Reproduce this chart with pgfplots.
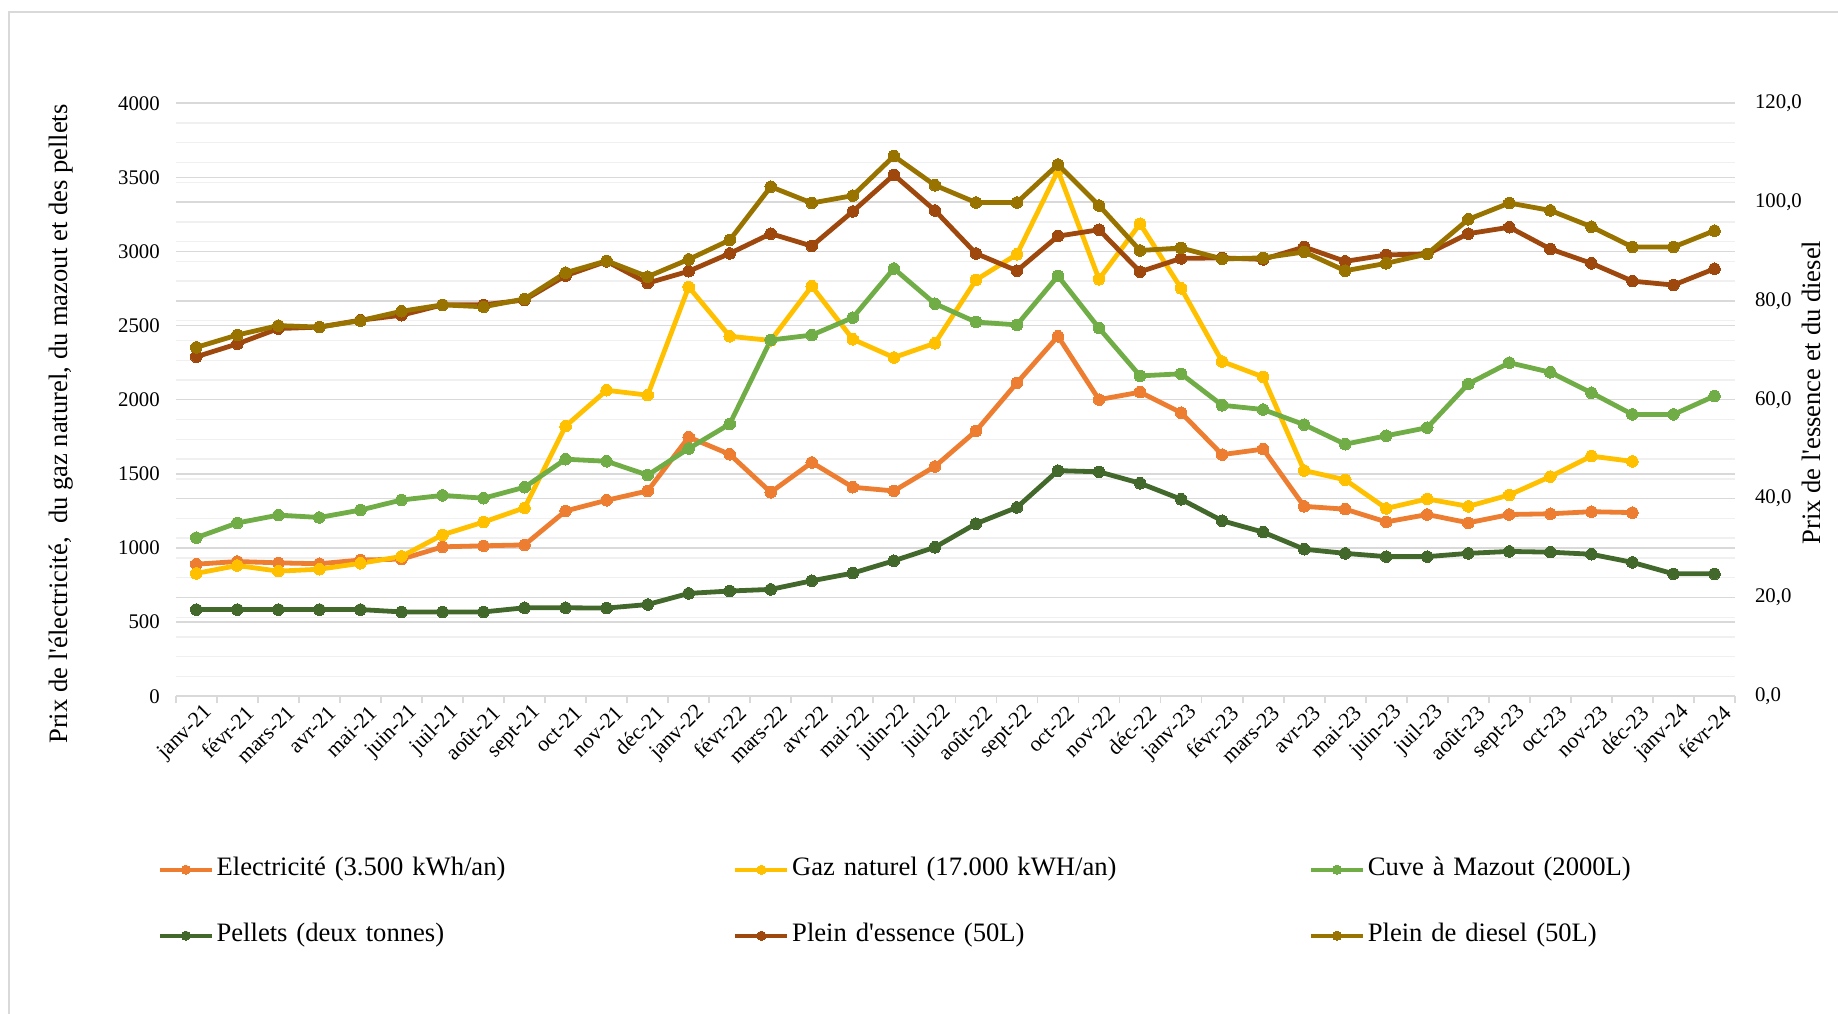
\documentclass[border=0pt]{standalone}
\usepackage{fontspec}
\setmainfont{Liberation Serif}
\usepackage{pgfplots}
\pgfplotsset{compat=1.18}

\definecolor{cElec}{HTML}{ED7D31}
\definecolor{cGaz}{HTML}{FFC000}
\definecolor{cMaz}{HTML}{70AD47}
\definecolor{cPel}{HTML}{43682B}
\definecolor{cEss}{HTML}{9E480E}
\definecolor{cDie}{HTML}{997300}
\definecolor{gridmaj}{HTML}{D9D9D9}
\definecolor{gridmin}{HTML}{F0F0F0}

\pgfplotsset{
  base/.style={
    at={(87.9pt,158.35pt)}, anchor=south west,
    scale only axis, width=779.6pt, height=296.55pt,
    xmin=-0.5, xmax=37.5,
    /pgf/number format/assume math mode=true,
    /pgf/number format/1000 sep={},
    tick label style={font=\fontsize{10.4}{12}\selectfont},
    label style={font=\fontsize{13.3}{15}\selectfont},
  },
  serie/.style={color=#1, line width=2.4pt, line join=round, mark=*, mark size=2.9pt,
    mark options={solid, fill=#1, draw=#1, line width=0pt}},
}

% Monthly prices: left axis (EUR per year / per delivery)
\pgfplotstableread{
m elec gaz mazout pellets
0  891  829  1070 585
1  909  882  1169 585
2  900  844  1222 585
3  894  857  1206 585
4  919  897  1256 585
5  925  943  1324 569
6  1008 1089 1355 569
7  1015 1175 1336 569
8  1021 1271 1410 597
9  1250 1822 1599 597
10 1322 2064 1585 595
11 1385 2031 1492 619
12 1748 2761 1671 694
13 1632 2428 1836 710
14 1376 2400 2403 721
15 1577 2766 2436 779
16 1410 2408 2554 831
17 1385 2285 2885 914
18 1550 2381 2648 1005
19 1789 2808 2524 1164
20 2114 2981 2505 1274
21 2428 3545 2835 1522
22 2001 2813 2483 1514
23 2051 3187 2161 1437
24 1913 2752 2175 1329
25 1630 2258 1963 1184
26 1667 2154 1934 1107
27 1281 1523 1832 992
28 1262 1460 1700 964
29 1176 1267 1757 942
30 1226 1331 1812 942
31 1170 1281 2107 964
32 1226 1358 2250 977
33 1231 1482 2185 972
34 1245 1620 2047 958
35 1239 1584 1901 903
36 nan  nan  1901 826
37 nan  nan  2025 826
}\gauche

% Full tank prices: right axis (EUR for 50 L)
\pgfplotstableread{
m essence diesel
0  68.7 70.6
1  71.3 73.1
2  74.4 75.0
3  74.7 74.7
4  76.1 76.0
5  77.1 77.9
6  79.2 79.2
7  79.2 78.8
8  80.2 80.4
9  85.1 85.7
10 88.0 88.1
11 83.6 84.9
12 86.0 88.4
13 89.6 92.3
14 93.6 103.1
15 91.1 99.8
16 98.1 101.3
17 105.5 109.3
18 98.3 103.4
19 89.6 99.9
20 86.1 99.9
21 93.1 107.6
22 94.4 99.3
23 85.9 90.2
24 88.6 90.7
25 88.7 88.5
26 88.4 88.7
27 90.9 89.9
28 88.0 86.1
29 89.3 87.6
30 89.5 89.5
31 93.6 96.5
32 94.9 99.8
33 90.5 98.3
34 87.6 95.0
35 84.0 90.9
36 83.2 90.9
37 86.5 94.2
}\droite

\begin{document}
\begin{tikzpicture}
\useasboundingbox (0,0) rectangle (919pt,506.5pt);
\draw[gridmaj, line width=0.8pt] (4.5pt,-20pt) -- (4.5pt,500.5pt) -- (940pt,500.5pt);

% secondary scale: gridlines and labels
\begin{axis}[base, ymin=0, ymax=120,
  axis x line=none, axis y line*=right, y axis line style={draw=none},
  ytick={0,20,...,120}, minor y tick num=4,
  ymajorgrids, yminorgrids,
  major grid style={gridmaj, line width=0.7pt},
  minor grid style={gridmin, line width=0.7pt},
  major tick length=0pt, minor tick length=0pt,
  yticklabel style={xshift=6.5pt, /pgf/number format/.cd, fixed, fixed zerofill, precision=1, use comma},
  ylabel={Prix de l\textquotesingle essence et du diesel},
  ylabel style={at={(axis description cs:1.0487,0.512)}, anchor=center},
]
\end{axis}

% primary scale
\begin{axis}[base, ymin=0, ymax=4000,
  axis x line*=bottom, axis y line*=left, y axis line style={draw=none},
  x axis line style={gridmaj, line width=0.9pt, -},
  xtick={0,...,37},
  xticklabels={janv-21,févr-21,mars-21,avr-21,mai-21,juin-21,juil-21,août-21,sept-21,oct-21,nov-21,déc-21,
    janv-22,févr-22,mars-22,avr-22,mai-22,juin-22,juil-22,août-22,sept-22,oct-22,nov-22,déc-22,
    janv-23,févr-23,mars-23,avr-23,mai-23,juin-23,juil-23,août-23,sept-23,oct-23,nov-23,déc-23,
    janv-24,févr-24},
  minor xtick={-0.5,0.5,...,37.5},
  major tick length=0pt, minor tick length=3.5pt, tick align=outside,
  minor tick style={gridmaj, line width=0.9pt},
  xticklabel style={rotate=45, anchor=east, inner sep=1pt, yshift=-9pt, xshift=1pt,
    font=\fontsize{10.9}{12}\selectfont},
  ytick={0,500,...,4000}, ymajorgrids,
  major grid style={gridmaj, line width=0.7pt},
  yticklabel style={xshift=-4.5pt},
  ylabel={Prix de l\textquotesingle électricité,\ \ du gaz naturel, du mazout et des pellets},
  ylabel style={at={(axis description cs:-0.0736,0.459)}, anchor=center},
  legend columns=3,
  legend cell align=left,
  legend image code/.code={\draw[line width=1.8pt, mark size=2.3pt, mark repeat=2, mark phase=2]
    plot coordinates {(0pt,0pt) (13pt,0pt) (26pt,0pt)};},
  legend style={draw=none, fill=none, at={(axis description cs:-0.0114,-0.348)}, anchor=west,
    inner sep=0pt, outer sep=0pt, column sep=0pt, row sep=21pt,
    font=\fontsize{13.3}{15}\selectfont,
    nodes={text width=257pt, align=left, inner xsep=1.5pt, inner ysep=0pt, text height=9pt, text depth=3pt}},
]
\addplot[serie=cElec] table[x=m, y=elec] {\gauche};
\addlegendentry{Electricité (3.500 kWh/an)}
\addplot[serie=cGaz] table[x=m, y=gaz] {\gauche};
\addlegendentry{Gaz naturel (17.000 kWH/an)}
\addplot[serie=cMaz] table[x=m, y=mazout] {\gauche};
\addlegendentry{Cuve à Mazout (2000L)}
\addplot[serie=cPel] table[x=m, y=pellets] {\gauche};
\addlegendentry{Pellets (deux tonnes)}
\addlegendimage{serie=cEss}
\addlegendentry{Plein d\textquotesingle essence (50L)}
\addlegendimage{serie=cDie}
\addlegendentry{Plein de diesel (50L)}
\end{axis}

% secondary scale: fuel series on top
\begin{axis}[base, ymin=0, ymax=120, hide axis]
\addplot[serie=cEss] table[x=m, y=essence] {\droite};
\addplot[serie=cDie] table[x=m, y=diesel] {\droite};
\end{axis}
\end{tikzpicture}
\end{document}
